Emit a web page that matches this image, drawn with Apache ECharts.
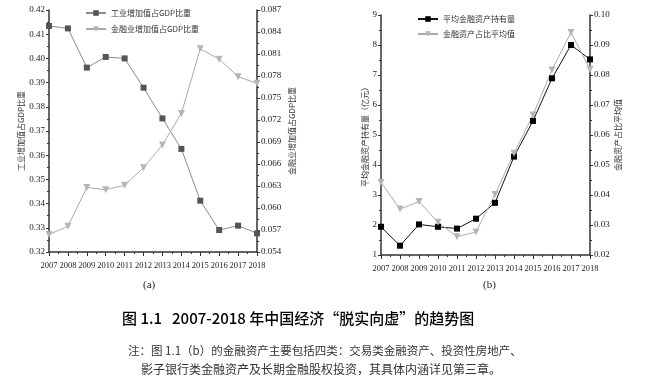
<!DOCTYPE html>
<html><head><meta charset="utf-8">
<script src="https://cdn.jsdelivr.net/npm/echarts@6/dist/echarts.min.js"></script>
<style>html,body{margin:0;padding:0;background:#fff}#c{width:672px;height:388px}</style>
</head><body><div id="c"></div>
<script>
var years = [2007,2008,2009,2010,2011,2012,2013,2014,2015,2016,2017,2018];
var industryShare = [0.4134,0.4124,0.3962,0.4006,0.4000,0.3879,0.3752,0.3626,0.3412,0.3291,0.3309,0.3277];
var financeShare = [0.0564,0.0575,0.0628,0.0625,0.0631,0.0655,0.0686,0.0729,0.0817,0.0803,0.0779,0.0770];
var avgFinAssets = [1.94,1.31,2.02,1.94,1.88,2.21,2.74,4.28,5.47,6.89,8.00,7.52];
var finAssetRatio = [0.0442,0.0353,0.0378,0.0309,0.0261,0.0277,0.0402,0.0539,0.0667,0.0817,0.0942,0.0819];
var names = ['工业增加值占GDP比重','金融业增加值占GDP比重','平均金融资产持有量','金融资产占比平均值'];
var leftNameB = '平均金融资产持有量（亿元）';

function pairs(v){ return years.map(function(y,i){ return [y, v[i]]; }); }
var F = 'Liberation Serif';
var C = 'Noto Sans CJK SC';
function xAx(gi){
  return {type:'value', gridIndex:gi, min:2007, max:2018, interval:1,
    axisLine:{show:true,lineStyle:{color:'#333',width:1.5}},
    axisTick:{show:true,inside:false,length:4,lineStyle:{color:'#333'}},
    minorTick:{show:true,splitNumber:2,length:2,lineStyle:{color:'#333'}},
    splitLine:{show:false},
    axisLabel:{fontFamily:F,fontSize:8.5,color:'#222',margin:9,formatter:function(v){return String(v);}}};
}
function yAx(gi,pos,min,max,iv,dec,name,gap){
  return {type:'value', gridIndex:gi, position:pos, min:min, max:max, interval:iv,
    name:name, nameLocation:'middle', nameGap:gap, nameRotate:90,
    nameTextStyle:{fontFamily:C,fontSize:8,color:'#333'},
    axisLine:{show:true,lineStyle:{color:'#333',width:1.5}},
    axisTick:{show:true,inside:false,length:3,lineStyle:{color:'#333'}},
    minorTick:{show:true,splitNumber:2,length:2,lineStyle:{color:'#333'}},
    splitLine:{show:false},
    axisLabel:{fontFamily:F,fontSize:9,color:'#222',margin:4,formatter:function(v){return v.toFixed(dec);}}};
}
var chart = echarts.init(document.getElementById('c'));
chart.setOption({
  animation:false,
  grid:[{left:49,right:415,top:10,bottom:136},{left:381,right:82,top:15,bottom:133}],
  xAxis:[xAx(0),xAx(1)],
  yAxis:[
    yAx(0,'left',0.32,0.42,0.01,2,names[0],24),
    yAx(0,'right',0.054,0.087,0.003,3,names[1],31),
    yAx(1,'left',1,9,1,0,leftNameB,12),
    yAx(1,'right',0.02,0.10,0.01,2,names[3],22)
  ],
  legend:[
    {data:[names[0],names[1]],orient:'vertical',left:80,top:4,itemGap:8,itemWidth:20,itemHeight:7,
     textStyle:{fontFamily:C,fontSize:8,color:'#333'}},
    {data:[names[2],names[3]],orient:'vertical',left:412,top:10,itemGap:7,itemWidth:20,itemHeight:7,
     textStyle:{fontFamily:C,fontSize:8,color:'#333'}}
  ],
  series:[
    {name:names[0],type:'line',xAxisIndex:0,yAxisIndex:0,data:pairs(industryShare),
     symbol:'rect',symbolSize:6,lineStyle:{color:'#8a8a8a',width:1},itemStyle:{color:'#555'}},
    {name:names[1],type:'line',xAxisIndex:0,yAxisIndex:1,data:pairs(financeShare),
     symbol:'triangle',symbolRotate:180,symbolSize:7,lineStyle:{color:'#aaa',width:1},itemStyle:{color:'#b5b5b5'}},
    {name:names[2],type:'line',xAxisIndex:1,yAxisIndex:2,data:pairs(avgFinAssets),
     symbol:'rect',symbolSize:6,lineStyle:{color:'#111',width:1},itemStyle:{color:'#000'}},
    {name:names[3],type:'line',xAxisIndex:1,yAxisIndex:3,data:pairs(finAssetRatio),
     symbol:'triangle',symbolRotate:180,symbolSize:7,lineStyle:{color:'#aaa',width:1},itemStyle:{color:'#b5b5b5'}}
  ],
  graphic:[
    {type:'text',left:143,top:280,style:{text:'(a)',fontFamily:F,fontSize:11,fill:'#222'}},
    {type:'text',left:483,top:280,style:{text:'(b)',fontFamily:F,fontSize:11,fill:'#222'}},
    {type:'text',left:122,top:311,style:{text:'图 1.1   2007-2018 年中国经济“脱实向虚”的趋势图',fontFamily:C,fontSize:15,fontWeight:500,fill:'#000'}},
    {type:'text',left:128,top:345,style:{text:'注：图 1.1（b）的金融资产主要包括四类：交易类金融资产、投资性房地产、',fontFamily:C,fontSize:11.5,fill:'#333'}},
    {type:'text',left:141,top:363,style:{text:'影子银行类金融资产及长期金融股权投资，其具体内涵详见第三章。',fontFamily:C,fontSize:12,fill:'#333'}}
  ]
});
</script></body></html>
